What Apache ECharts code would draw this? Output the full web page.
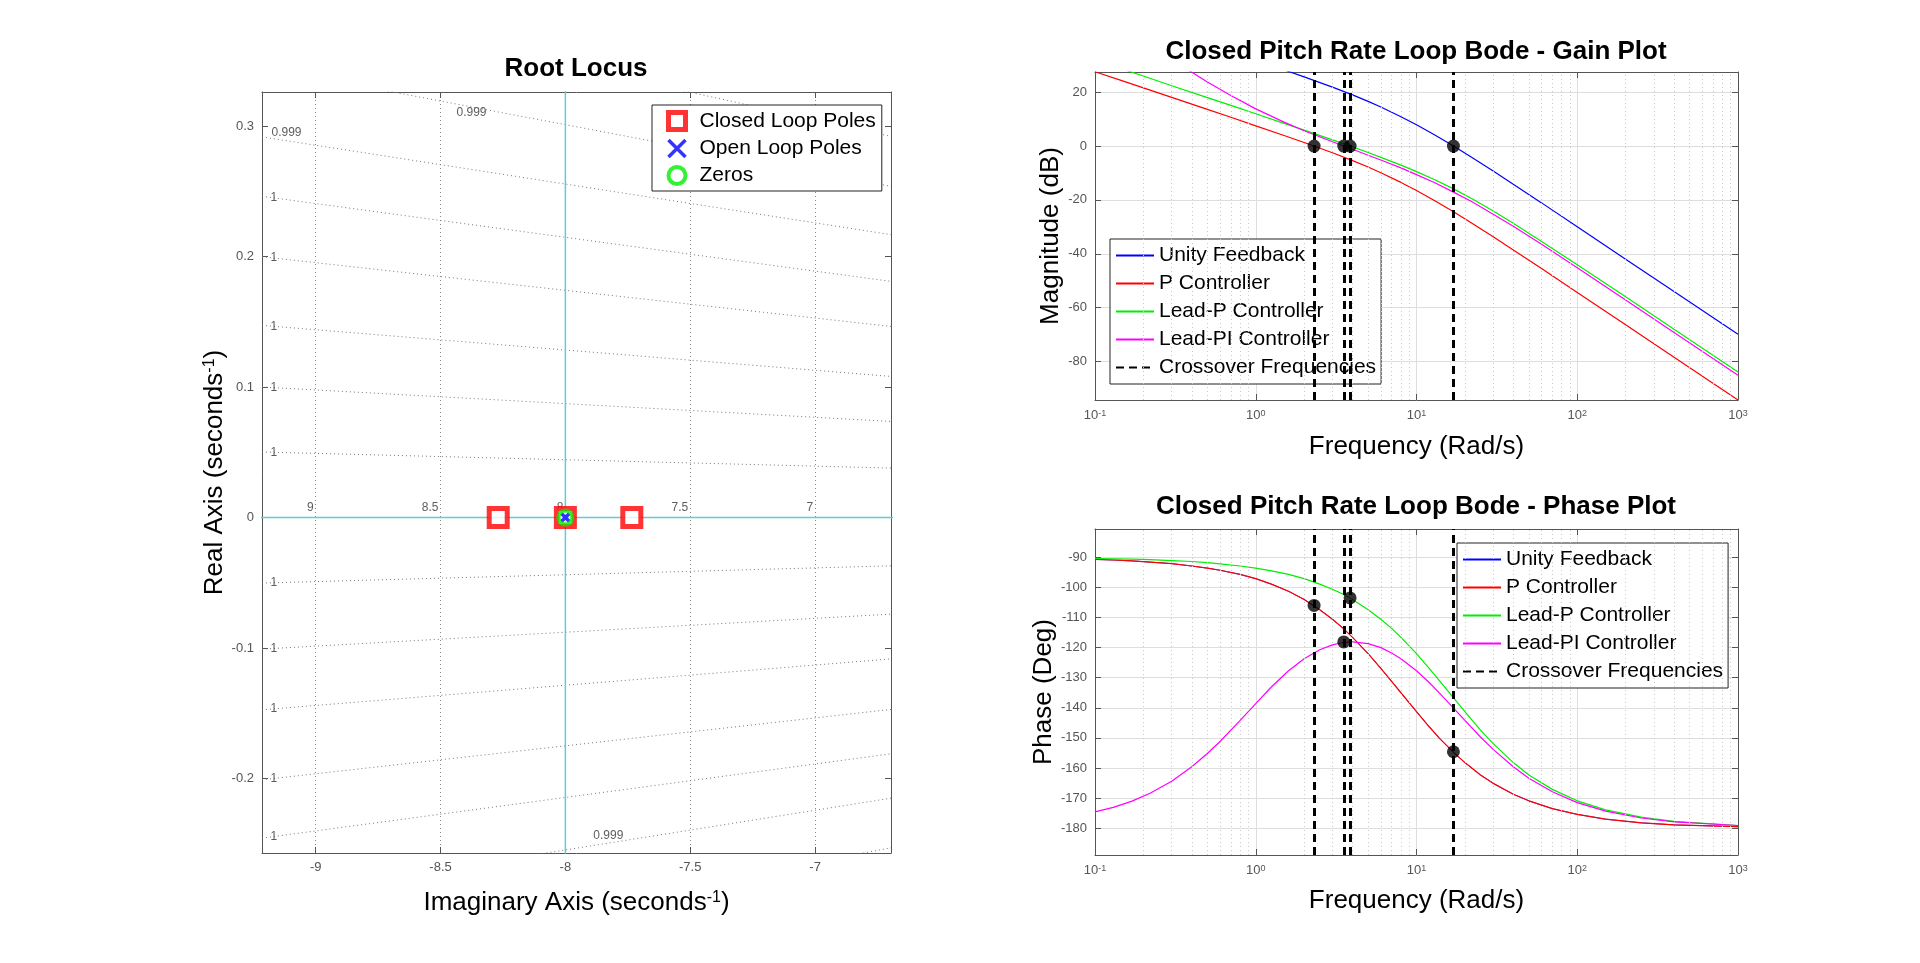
<!DOCTYPE html>
<html>
<head>
<meta charset="utf-8">
<title>Root Locus and Closed Pitch Rate Loop Bode</title>
<script src="https://cdn.jsdelivr.net/npm/echarts@6/dist/echarts.min.js"></script>
<style>
  html, body { margin: 0; padding: 0; background: #fff; }
  #chart { width: 1920px; height: 963px; }
</style>
</head>
<body>
<div id="chart"></div>
<script>
// ---- root locus ----
const rlXRange = [-9.215, -6.696];
const rlYRange = [-0.257, 0.326];
const rlClosedLoopPoles = [[-8.269, 0], [-8.0, 0], [-7.734, 0]];
const rlOpenLoopPoles = [[-8.0, 0]];
const rlZeros = [[-8.0, 0]];
const rlBranchReal = [[-10, 0], [-6, 0]];
const rlBranchImag = [[-8, -1], [-8, 1]];
const rlFreqLabelX = [-9, -8.5, -8, -7.5, -7];
const rlFreqLabels = ['9', '8.5', '8', '7.5', '7'];
// dotted damping lines, y where they meet the left / right edge
const dampLeft = [0.398, 0.345, 0.2916, 0.2461, 0.1998, 0.1472, 0.1000, 0.0502,
  -0.0502, -0.1008, -0.1473, -0.2009, -0.2456, -0.2916, -0.345, -0.398];
const dampRight = [0.292, 0.2537, 0.2167, 0.1809, 0.1464, 0.1081, 0.0736, 0.0379,
  -0.0370, -0.0740, -0.1083, -0.1470, -0.1810, -0.2150, -0.2530, -0.292];
const dampLabels = [
  [-9.117, 0.2946, '0.999'], [-8.376, 0.3104, '0.999'], [-7.828, -0.2438, '0.999'],
  [-9.168, 0.2449, '1'], [-9.168, 0.1988, '1'], [-9.168, 0.1465, '1'], [-9.168, 0.0995, '1'],
  [-9.168, 0.0500, '1'], [-9.168, -0.0500, '1'], [-9.168, -0.1003, '1'], [-9.168, -0.1466, '1'],
  [-9.168, -0.1999, '1'], [-9.168, -0.2444, '1']
];

// ---- bode: gain ----
const freq = [0.1, 0.15, 0.2, 0.3, 0.5, 0.7, 1, 1.5, 2, 3, 4, 5, 6, 8, 10, 13, 17, 22, 30, 40, 60, 100, 200, 400, 1000];
const magUnity = [52.0, 48.5, 46.0, 42.5, 38.0, 35.1, 31.9, 28.3, 25.7, 21.9, 19.0, 16.6, 14.5, 10.9, 7.9, 4.1, 0.0, -4.2, -9.3, -14.2, -21.1, -30.0, -42.0, -54.0, -69.9];
const magP = [27.6, 24.1, 21.6, 18.1, 13.6, 10.7, 7.5, 3.9, 1.3, -2.5, -5.4, -7.8, -9.9, -13.5, -16.5, -20.3, -24.4, -28.6, -33.7, -38.6, -45.5, -54.4, -66.4, -78.4, -94.3];
const magLeadP = [32.0, 28.5, 26.0, 22.4, 18.0, 15.1, 12.0, 8.4, 5.9, 2.3, -0.3, -2.4, -4.2, -7.1, -9.5, -12.5, -15.9, -19.5, -24.1, -28.7, -35.4, -44.1, -56.0, -68.0, -83.9];
const magLeadPI = [50.9, 43.9, 39.0, 32.1, 23.8, 18.8, 13.8, 8.9, 5.7, 1.6, -1.2, -3.4, -5.2, -8.1, -10.6, -13.6, -17.1, -20.6, -25.3, -29.8, -36.5, -45.2, -57.2, -69.2, -85.1];

// ---- bode: phase ----
const freqPhase = [0.1, 0.13, 0.17, 0.22, 0.3, 0.4, 0.5, 0.6, 0.8, 1, 1.25, 1.6, 2, 2.5, 3, 3.5, 4, 5, 6, 7, 8, 10, 12, 14, 17, 20, 25, 30, 40, 50, 70, 100, 150, 250, 400, 1000];
const phaseP = [-90.7, -90.9, -91.2, -91.6, -92.1, -92.9, -93.6, -94.3, -95.7, -97.1, -98.9, -101.3, -104.0, -107.4, -110.6, -113.6, -116.6, -122.0, -126.9, -131.2, -135.0, -141.3, -146.3, -150.3, -154.8, -158.2, -162.3, -165.1, -168.7, -170.9, -173.5, -175.4, -177.0, -178.2, -178.9, -179.5];
// unity feedback phase lies exactly under the P controller curve
const phaseUnity = phaseP;
const phaseLeadP = [-90.4, -90.5, -90.6, -90.8, -91.1, -91.4, -91.8, -92.2, -92.9, -93.6, -94.5, -95.7, -97.1, -98.9, -100.6, -102.3, -104.0, -107.4, -110.6, -113.6, -116.6, -122.0, -126.9, -131.2, -136.7, -141.3, -147.4, -151.9, -158.2, -162.3, -167.1, -170.9, -173.9, -176.3, -177.7, -179.1];
const phaseLeadPI = [-174.6, -173.1, -171.0, -168.4, -164.4, -159.6, -155.2, -151.2, -144.2, -138.6, -133.1, -127.7, -123.7, -120.7, -119.1, -118.3, -118.1, -118.7, -120.0, -121.8, -123.7, -127.7, -131.6, -135.3, -140.1, -144.2, -149.7, -153.8, -159.6, -163.4, -167.9, -171.5, -174.3, -176.6, -177.9, -179.1];

const crossoverFreq = [2.306, 3.527, 3.863, 16.97];
const crossoverGain = [0, 0, 0, 0];
const crossoverPhase = [-106.0, -118.1, -103.5, -154.6];

const gainRange = [-94.3, 27.5];
const phaseRange = [-188.9, -80.6];

const FONT = '"Liberation Sans", Arial, Helvetica, sans-serif';
const AX = '#555';
const TICK = '#555';
const GRIDC = '#dedede';
const names = ['Unity Feedback', 'P Controller', 'Lead-P Controller', 'Lead-PI Controller'];
const colors = ['#0000ff', '#ff0000', '#00ee00', '#ff00ff'];

const pairs = (xs, ys) => xs.map((x, i) => [x, ys[i]]);

// minor log grid positions (2..9 in each decade)
const minorGrid = [];
[0.1, 1, 10, 100].forEach(d => { for (let k = 2; k <= 9; k++) minorGrid.push(+(d * k).toPrecision(3)); });

const chart = echarts.init(document.getElementById('chart'));

const supRich = { s: { fontSize: 16, fontFamily: FONT, color: '#000', verticalAlign: 'top' } };
const nameStyle = { fontSize: 26, color: '#000', fontFamily: FONT, rich: supRich };
const tickStyle = { show: true, inside: true, length: 6, lineStyle: { color: AX } };
const lineStyleAx = { show: true, onZero: false, lineStyle: { color: AX, width: 1 } };

function logLabel() {
  return {
    margin: 9,
    formatter: v => '{b|10}{s|' + Math.round(Math.log10(v)) + '}',
    rich: {
      b: { fontSize: 13, color: TICK, fontFamily: FONT },
      s: { fontSize: 9, color: TICK, fontFamily: FONT, verticalAlign: 'top' }
    }
  };
}
function valLabel() {
  return { fontSize: 13, color: TICK, fontFamily: FONT, margin: 8, showMinLabel: false, showMaxLabel: false };
}
function mirror(base, pos) {
  return Object.assign({}, base, {
    position: pos, name: '', axisLabel: { show: false }, splitLine: { show: false }
  });
}

const xRL = {
  type: 'value', gridIndex: 0, min: rlXRange[0], max: rlXRange[1], minInterval: 0.5, maxInterval: 0.5,
  axisLine: lineStyleAx, axisTick: tickStyle, axisLabel: valLabel(),
  splitLine: { show: true, lineStyle: { type: [1, 3], color: '#888', width: 1 } },
  name: 'Imaginary Axis (seconds{s|-1})', nameLocation: 'middle', nameGap: 37, nameTextStyle: nameStyle
};
const xGain = {
  type: 'log', logBase: 10, gridIndex: 1, min: 0.1, max: 1000,
  axisLine: lineStyleAx, axisTick: tickStyle, axisLabel: logLabel(),
  splitLine: { show: true, lineStyle: { color: GRIDC, width: 1 } },
  name: 'Frequency (Rad/s)', nameLocation: 'middle', nameGap: 34, nameTextStyle: nameStyle
};
const xPhase = Object.assign({}, xGain, { gridIndex: 2, nameGap: 33, axisLabel: logLabel() });

const yRL = {
  type: 'value', gridIndex: 0, min: rlYRange[0], max: rlYRange[1], minInterval: 0.1, maxInterval: 0.1,
  axisLine: lineStyleAx, axisTick: tickStyle, axisLabel: valLabel(), splitLine: { show: false },
  name: 'Real Axis (seconds{s|-1})', nameLocation: 'middle', nameGap: 33, nameTextStyle: nameStyle
};
const yGain = {
  type: 'value', gridIndex: 1, min: gainRange[0], max: gainRange[1], minInterval: 20, maxInterval: 20,
  axisLine: lineStyleAx, axisTick: tickStyle, axisLabel: valLabel(),
  splitLine: { show: true, lineStyle: { color: GRIDC, width: 1 } },
  name: 'Magnitude (dB)', nameLocation: 'middle', nameGap: 28, nameTextStyle: nameStyle
};
const yPhase = Object.assign({}, yGain, {
  gridIndex: 2, min: phaseRange[0], max: phaseRange[1], minInterval: 10, maxInterval: 10,
  name: 'Phase (Deg)', nameGap: 36, axisLabel: valLabel()
});

const series = [];

// damping grid lines
dampLeft.forEach((yl, i) => {
  series.push({
    type: 'line', xAxisIndex: 0, yAxisIndex: 0, silent: true, symbol: 'none', z: 1,
    data: [[rlXRange[0], yl], [rlXRange[1], dampRight[i]]],
    lineStyle: { type: [1, 3], color: '#777', width: 1 }
  });
});
series.push({
  type: 'scatter', xAxisIndex: 0, yAxisIndex: 0, silent: true, symbolSize: 1, z: 2,
  itemStyle: { color: 'rgba(0,0,0,0)' },
  data: dampLabels.map(d => ({ value: [d[0], d[1]], name: d[2] })),
  label: { show: true, position: 'inside', formatter: '{b}', fontSize: 12, color: '#333', fontFamily: FONT }
});
series.push({
  type: 'scatter', xAxisIndex: 0, yAxisIndex: 0, silent: true, symbolSize: 1, z: 2,
  itemStyle: { color: 'rgba(0,0,0,0)' },
  data: rlFreqLabelX.map((x, i) => ({ value: [x, 0], name: rlFreqLabels[i] })),
  label: { show: true, position: 'top', distance: 3, align: 'right', offset: [-2, 0],
    formatter: '{b}', fontSize: 12, color: '#333', fontFamily: FONT }
});
// locus branches
[rlBranchReal, rlBranchImag].forEach(b => {
  series.push({
    type: 'line', xAxisIndex: 0, yAxisIndex: 0, silent: true, symbol: 'none', z: 3, data: b,
    lineStyle: { color: '#62cccf', width: 1.5 }
  });
});
const clpStyle = { color: '#fff', borderColor: '#ff0000', borderWidth: 5 };
const olpStyle = { color: '#0000ff', borderColor: '#0000ff', borderWidth: 3.5 };
const zeroStyle = { color: 'rgba(0,0,0,0)', borderColor: '#00ee00', borderWidth: 4 };
series.push({
  name: 'Closed Loop Poles', type: 'scatter', xAxisIndex: 0, yAxisIndex: 0, z: 4,
  symbol: 'rect', symbolSize: 18, data: rlClosedLoopPoles, itemStyle: clpStyle
});
series.push({
  name: 'Open Loop Poles', type: 'scatter', xAxisIndex: 0, yAxisIndex: 0, z: 5,
  symbol: 'path://M0,0 L10,10 M10,0 L0,10', symbolSize: 8, data: rlOpenLoopPoles, itemStyle: olpStyle
});
series.push({
  name: 'Zeros', type: 'scatter', xAxisIndex: 0, yAxisIndex: 0, z: 6,
  symbol: 'circle', symbolSize: 14, data: rlZeros, itemStyle: zeroStyle
});

// bode plots
const magSets = [magUnity, magP, magLeadP, magLeadPI];
const phaseSets = [phaseUnity, phaseP, phaseLeadP, phaseLeadPI];
[[1, freq, magSets], [2, freqPhase, phaseSets]].forEach(([gi, xs, sets]) => {
  series.push({
    type: 'line', xAxisIndex: gi, yAxisIndex: gi, data: [], silent: true, z: 1,
    markLine: {
      silent: true, symbol: ['none', 'none'], label: { show: false }, animation: false,
      lineStyle: { type: [1, 3], color: '#c8c8c8', width: 1 },
      data: minorGrid.map(v => ({ xAxis: v }))
    }
  });
  sets.forEach((s, i) => {
    // in the phase plot the unity curve is covered by the P curve
    const w = (gi === 2 && i === 0) ? 0.8 : 1.2;
    series.push({
      name: names[i], type: 'line', xAxisIndex: gi, yAxisIndex: gi, symbol: 'none', z: 3,
      data: pairs(xs, s),
      lineStyle: { color: colors[i], width: w }, itemStyle: { color: colors[i] }
    });
  });
  series.push({
    name: 'Crossover Frequencies', type: 'line', xAxisIndex: gi, yAxisIndex: gi, data: [], z: 4,
    symbol: 'none', lineStyle: { color: '#000', width: 3, type: [8, 5] }, itemStyle: { color: '#000' },
    markLine: {
      silent: true, symbol: ['none', 'none'], label: { show: false }, animation: false,
      lineStyle: { color: '#000', width: 3, type: [8, 5] },
      data: crossoverFreq.map(f => ({ xAxis: f }))
    }
  });
  series.push({
    type: 'scatter', xAxisIndex: gi, yAxisIndex: gi, z: 5, symbolSize: 13, silent: true,
    itemStyle: { color: '#000' },
    data: pairs(crossoverFreq, gi === 1 ? crossoverGain : crossoverPhase)
  });
});

const legendText = { fontSize: 21, color: '#000', fontFamily: FONT };
const bodeLegend = {
  orient: 'vertical', selectedMode: false, itemWidth: 38, itemHeight: 20, itemGap: 7,
  padding: [6, 5, 6, 5], borderColor: '#222', borderWidth: 1, backgroundColor: '#fff',
  itemStyle: { opacity: 0 },
  textStyle: legendText, data: names.concat(['Crossover Frequencies'])
};

const option = {
  animation: false,
  backgroundColor: '#fff',
  textStyle: { fontFamily: FONT },
  title: [
    { text: 'Root Locus', left: 576, top: 56, textAlign: 'center', padding: 0,
      textStyle: { fontSize: 26, fontWeight: 'bold', color: '#000', fontFamily: FONT } },
    { text: 'Closed Pitch Rate Loop Bode - Gain Plot', left: 1416, top: 39, textAlign: 'center', padding: 0,
      textStyle: { fontSize: 26, fontWeight: 'bold', color: '#000', fontFamily: FONT } },
    { text: 'Closed Pitch Rate Loop Bode - Phase Plot', left: 1416, top: 494, textAlign: 'center', padding: 0,
      textStyle: { fontSize: 26, fontWeight: 'bold', color: '#000', fontFamily: FONT } }
  ],
  grid: [
    { left: 262, top: 92, width: 629, height: 761 },
    { left: 1095, top: 72, width: 643, height: 328 },
    { left: 1095, top: 529, width: 643, height: 326 }
  ],
  legend: [
    { orient: 'vertical', selectedMode: false, left: 652, top: 105, itemWidth: 17, itemHeight: 17, itemGap: 6,
      padding: [5, 6, 5, 14], borderColor: '#222', borderWidth: 1, backgroundColor: '#fff',
      textStyle: Object.assign({ padding: [0, 0, 0, 9] }, legendText),
      data: [
        { name: 'Closed Loop Poles', itemStyle: clpStyle },
        { name: 'Open Loop Poles', itemStyle: olpStyle },
        { name: 'Zeros', itemStyle: zeroStyle }
      ] },
    Object.assign({ left: 1110, top: 239 }, bodeLegend),
    Object.assign({ left: 1457, top: 543 }, bodeLegend)
  ],
  xAxis: [xRL, xGain, xPhase, mirror(xRL, 'top'), mirror(xGain, 'top'), mirror(xPhase, 'top')],
  yAxis: [yRL, yGain, yPhase, mirror(yRL, 'right'), mirror(yGain, 'right'), mirror(yPhase, 'right')],
  series: series
};

chart.setOption(option);
</script>
</body>
</html>
